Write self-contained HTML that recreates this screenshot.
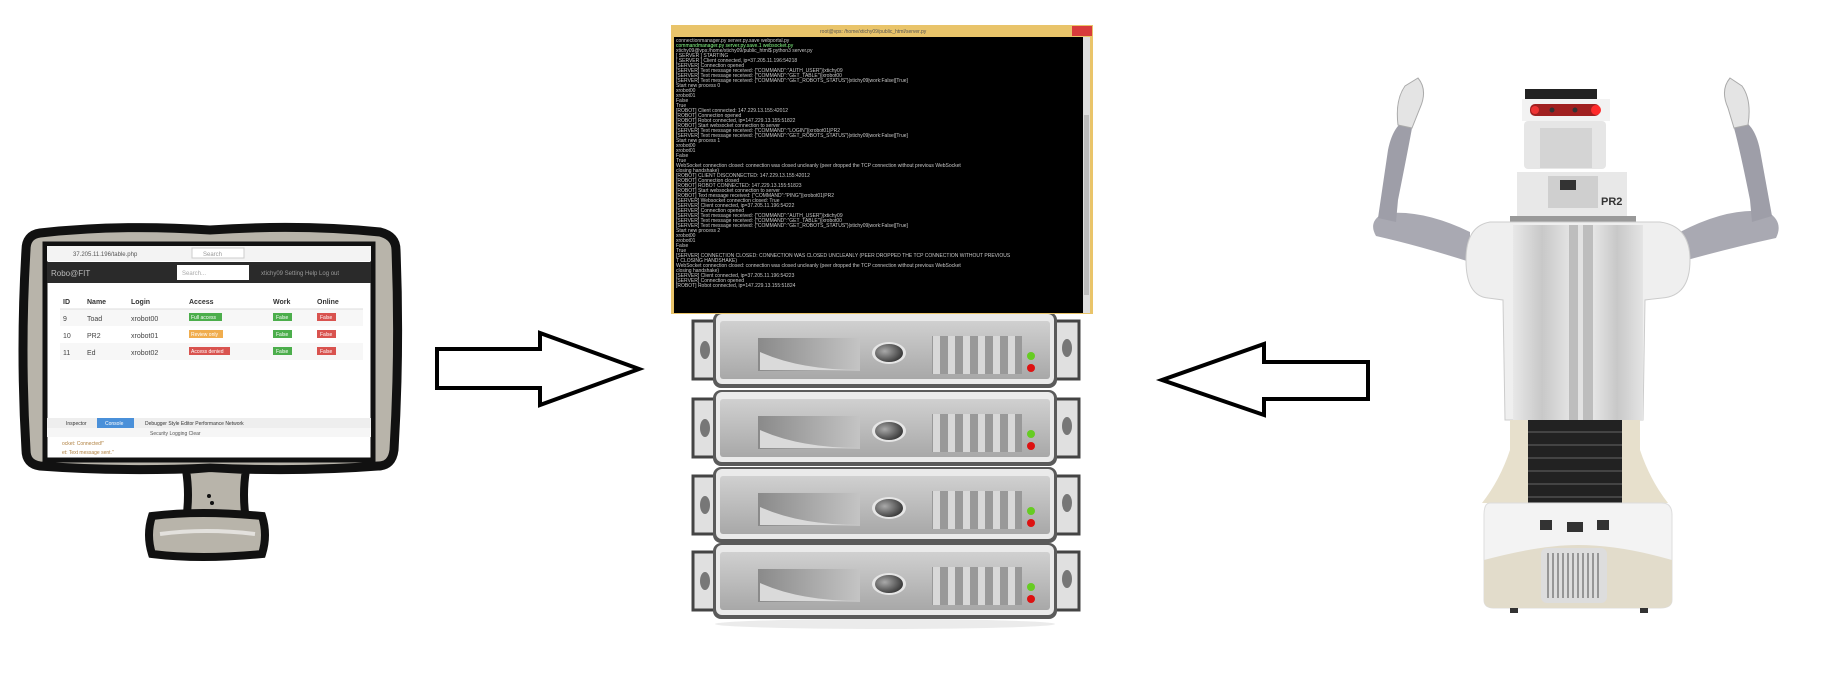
<!DOCTYPE html>
<html><head><meta charset="utf-8"><style>
html,body{margin:0;padding:0;background:#fff;width:1846px;height:685px;overflow:hidden}
svg{display:block}
text{font-family:"Liberation Sans",sans-serif}
.t{font-family:"Liberation Mono",monospace;font-size:5px;fill:#c8c8c8}
</style></head><body>
<svg width="1846" height="685" viewBox="0 0 1846 685" xmlns="http://www.w3.org/2000/svg">
<defs>
<linearGradient id="face" x1="0" y1="0" x2="0" y2="1"><stop offset="0" stop-color="#d0d0d0"/><stop offset="1" stop-color="#a8a8a8"/></linearGradient>
<linearGradient id="slot" x1="0" y1="0" x2="1" y2="0"><stop offset="0" stop-color="#8a8a8a"/><stop offset="1" stop-color="#c4c4c4"/></linearGradient>
<radialGradient id="btn" cx="0.35" cy="0.4" r="0.7"><stop offset="0" stop-color="#aaa"/><stop offset="1" stop-color="#333"/></radialGradient>
<linearGradient id="body" x1="0" y1="0" x2="1" y2="0"><stop offset="0" stop-color="#e8e8e8"/><stop offset="0.5" stop-color="#c8c8c8"/><stop offset="1" stop-color="#e4e4e4"/></linearGradient>
<g id="unit">
  <rect x="693" y="9" width="24" height="58" fill="#e0e0e0" stroke="#444" stroke-width="3"/>
  <ellipse cx="705" cy="38" rx="5" ry="9" fill="#777"/>
  <rect x="1055" y="9" width="24" height="58" fill="#e0e0e0" stroke="#444" stroke-width="3"/>
  <ellipse cx="1067" cy="36" rx="5" ry="9" fill="#777"/>
  <rect x="713" y="0" width="344" height="76" rx="8" fill="#5a5a5a"/>
  <rect x="716" y="2" width="338" height="70" rx="6" fill="#eaeaea"/>
  <rect x="720" y="9" width="330" height="58" rx="3" fill="url(#face)"/>
  <path d="M758 26 L860 26 L860 59 L758 59 Z" fill="url(#slot)"/>
  <path d="M760 40 Q800 58 860 58 L760 58 Z" fill="#dadada"/>
  <ellipse cx="889" cy="41" rx="17" ry="11" fill="#e6e6e6"/>
  <ellipse cx="889" cy="41" rx="14" ry="9" fill="url(#btn)"/>
  <rect x="932" y="24" width="90" height="38" fill="#999"/>
  <rect x="933" y="24" width="7" height="38" fill="#d8d8d8"/><rect x="948" y="24" width="7" height="38" fill="#d8d8d8"/><rect x="963" y="24" width="7" height="38" fill="#d8d8d8"/><rect x="978" y="24" width="7" height="38" fill="#d8d8d8"/><rect x="993" y="24" width="7" height="38" fill="#d8d8d8"/><rect x="1008" y="24" width="7" height="38" fill="#d8d8d8"/>
  <circle cx="1031" cy="44" r="4" fill="#66cc22"/>
  <circle cx="1031" cy="56" r="4" fill="#dd1111"/>
</g>
</defs>

<!-- MONITOR -->
<path d="M40 233 Q120 224 210 230 Q300 224 380 232 Q396 236 396 250 Q400 350 394 450 Q392 466 378 466 Q300 472 210 468 Q120 472 40 466 Q26 464 26 450 Q20 350 26 250 Q26 235 40 233 Z" fill="#b8b4aa" stroke="#111" stroke-width="9"/>
<rect x="45" y="244" width="328" height="216" fill="#fff" stroke="#111" stroke-width="5"/>
<rect x="47" y="246" width="324" height="15" fill="#f3f3f3"/>
<text x="73" y="256" font-size="6" fill="#555">37.205.11.196/table.php</text>
<rect x="192" y="248" width="52" height="10" fill="#fff" stroke="#ccc"/>
<text x="203" y="256" font-size="6" fill="#999">Search</text>
<rect x="47" y="262" width="324" height="21" fill="#2a2a2a"/>
<text x="51" y="276" font-size="8" fill="#bbb">Robo@FIT</text>
<rect x="177" y="265" width="72" height="15" fill="#fff"/>
<text x="182" y="275" font-size="6" fill="#aaa">Search...</text>
<text x="261" y="275" font-size="6" fill="#999">xtichy09    Setting    Help    Log out</text>
<g font-size="7" fill="#333" font-weight="bold"><text x="63" y="304">ID</text><text x="87" y="304">Name</text><text x="131" y="304">Login</text><text x="189" y="304">Access</text><text x="273" y="304">Work</text><text x="317" y="304">Online</text></g>
<rect x="60" y="309" width="303" height="17" fill="#f7f7f7"/>
<rect x="60" y="343" width="303" height="17" fill="#f7f7f7"/>
<line x1="60" y1="309" x2="363" y2="309" stroke="#ddd"/>
<g font-size="7" fill="#444">
<text x="63" y="321">9</text><text x="87" y="321">Toad</text><text x="131" y="321">xrobot00</text>
<text x="63" y="338">10</text><text x="87" y="338">PR2</text><text x="131" y="338">xrobot01</text>
<text x="63" y="355">11</text><text x="87" y="355">Ed</text><text x="131" y="355">xrobot02</text></g>
<rect x="189" y="313" width="33" height="8" fill="#4cae4c"/><text x="191" y="319" font-size="5" fill="#fff">Full access</text>
<rect x="189" y="330" width="34" height="8" fill="#f0ad4e"/><text x="191" y="336" font-size="5" fill="#fff">Review only</text>
<rect x="189" y="347" width="41" height="8" fill="#d9534f"/><text x="191" y="353" font-size="5" fill="#fff">Access denied</text>
<g font-size="5" fill="#fff">
<rect x="273" y="313" width="19" height="8" fill="#4cae4c"/><text x="276" y="319">False</text>
<rect x="273" y="330" width="19" height="8" fill="#4cae4c"/><text x="276" y="336">False</text>
<rect x="273" y="347" width="19" height="8" fill="#4cae4c"/><text x="276" y="353">False</text>
<rect x="317" y="313" width="19" height="8" fill="#d9534f"/><text x="320" y="319">False</text>
<rect x="317" y="330" width="19" height="8" fill="#d9534f"/><text x="320" y="336">False</text>
<rect x="317" y="347" width="19" height="8" fill="#d9534f"/><text x="320" y="353">False</text></g>
<rect x="47" y="418" width="324" height="10" fill="#eee"/>
<rect x="97" y="418" width="37" height="10" fill="#4a90d9"/>
<text x="66" y="425" font-size="5" fill="#333">Inspector</text><text x="105" y="425" font-size="5" fill="#fff">Console</text>
<text x="145" y="425" font-size="5" fill="#333">Debugger    Style Editor    Performance    Network</text>
<rect x="47" y="428" width="324" height="9" fill="#f6f6f6"/>
<text x="150" y="435" font-size="5" fill="#555">Security   Logging        Clear</text>
<text x="62" y="445" font-size="5" fill="#b08040">ocket: Connected!"</text>
<text x="62" y="454" font-size="5" fill="#b08040">et: Text message sent."</text>
<path d="M210 468 L186 470 Q190 495 186 520 L246 520 Q242 495 246 470 Z" fill="#b8b4aa" stroke="#111" stroke-width="8"/>
<circle cx="209" cy="496" r="2" fill="#111"/><circle cx="212" cy="503" r="2" fill="#111"/>
<path d="M152 516 Q200 510 262 516 Q268 535 262 554 Q200 560 152 554 Q146 535 152 516 Z" fill="#b8b4aa" stroke="#111" stroke-width="8"/>
<path d="M160 534 Q205 528 255 534" stroke="#fff" stroke-width="4" fill="none" opacity="0.6"/>

<!-- RIGHT ARROW -->
<path d="M437 349 L540 349 L540 333 L639 369 L540 405 L540 388 L437 388 Z" fill="#fff" stroke="#000" stroke-width="4" stroke-linejoin="miter"/>
<!-- LEFT ARROW -->
<path d="M1368 362 L1264 362 L1264 344 L1162 380 L1264 415 L1264 399 L1368 399 Z" fill="#fff" stroke="#000" stroke-width="4" stroke-linejoin="miter"/>

<!-- SERVERS -->
<use href="#unit" transform="translate(0,543)"/>
<use href="#unit" transform="translate(0,467)"/>
<use href="#unit" transform="translate(0,390)"/>
<use href="#unit" transform="translate(0,312)"/>
<ellipse cx="885" cy="624" rx="170" ry="5" fill="#ddd" opacity="0.6"/>

<!-- TERMINAL -->
<rect x="671" y="25" width="422" height="289" fill="#e9c46a"/>
<rect x="1072" y="26" width="20" height="10" fill="#d83b3b"/>
<text x="820" y="33" font-size="5" fill="#555">root@vps: /home/xtichy09/public_html/server.py</text>
<rect x="674" y="37" width="409" height="276" fill="#000"/>
<rect x="1083" y="37" width="7" height="276" fill="#ddd"/>
<rect x="1084" y="115" width="5" height="180" fill="#bbb"/>
<g class="t">
<text x="676" y="42">connectionmanager.py   server.py.save          webportal.py</text>
<text x="676" y="47" fill="#8f8">commandmanager.py      server.py.save.1        websocket.py</text>
<text x="676" y="52">xtichy09@vps:/home/xtichy09/public_html$ python3 server.py</text>
<text x="676" y="57">[ SERVER ] STARTING</text>
<text x="676" y="62">[ SERVER ] Client connected, ip=37.205.11.196:54218</text>
<text x="676" y="67">[SERVER] Connection opened</text>
<text x="676" y="72">[SERVER] Text message received: {"COMMAND":"AUTH_USER"}|xtichy09</text>
<text x="676" y="77">[SERVER] Text message received: {"COMMAND":"GET_TABLE"}|xrobot00</text>
<text x="676" y="82">[SERVER] Text message received: {"COMMAND":"GET_ROBOTS_STATUS"}|xtichy09|work:False|[True]</text>
<text x="676" y="87">Start new process 0</text>
<text x="676" y="92">xrobot00</text>
<text x="676" y="97">xrobot01</text>
<text x="676" y="102">False</text>
<text x="676" y="107">True</text>
<text x="676" y="112">[ROBOT] Client connected: 147.229.13.155:42012</text>
<text x="676" y="117">[ROBOT] Connection opened</text>
<text x="676" y="122">[ROBOT] Robot connected, ip=147.229.13.155:51822</text>
<text x="676" y="127">[ROBOT] Start websocket connection to server</text>
<text x="676" y="132">[SERVER] Text message received: {"COMMAND":"LOGIN"}|xrobot01|PR2</text>
<text x="676" y="137">[SERVER] Text message received: {"COMMAND":"GET_ROBOTS_STATUS"}|xtichy09|work:False|[True]</text>
<text x="676" y="142">Start new process 1</text>
<text x="676" y="147">xrobot00</text>
<text x="676" y="152">xrobot01</text>
<text x="676" y="157">False</text>
<text x="676" y="162">True</text>
<text x="676" y="167">WebSocket connection closed: connection was closed uncleanly (peer dropped the TCP connection without previous WebSocket</text>
<text x="676" y="172"> closing handshake)</text>
<text x="676" y="177">[ROBOT] CLIENT DISCONNECTED: 147.229.13.155:42012</text>
<text x="676" y="182">[ROBOT] Connection closed</text>
<text x="676" y="187">[ROBOT] ROBOT CONNECTED: 147.229.13.155:51823</text>
<text x="676" y="192">[ROBOT] Start websocket connection to server</text>
<text x="676" y="197">[ROBOT] Text message received: {"COMMAND":"PING"}|xrobot01|PR2</text>
<text x="676" y="202">[SERVER] Websocket connection closed: True</text>
<text x="676" y="207">[SERVER] Client connected, ip=37.205.11.196:54222</text>
<text x="676" y="212">[SERVER] Connection opened</text>
<text x="676" y="217">[SERVER] Text message received: {"COMMAND":"AUTH_USER"}|xtichy09</text>
<text x="676" y="222">[SERVER] Text message received: {"COMMAND":"GET_TABLE"}|xrobot00</text>
<text x="676" y="227">[SERVER] Text message received: {"COMMAND":"GET_ROBOTS_STATUS"}|xtichy09|work:False|[True]</text>
<text x="676" y="232">Start new process 2</text>
<text x="676" y="237">xrobot00</text>
<text x="676" y="242">xrobot01</text>
<text x="676" y="247">False</text>
<text x="676" y="252">True</text>
<text x="676" y="257">[SERVER] CONNECTION CLOSED: CONNECTION WAS CLOSED UNCLEANLY (PEER DROPPED THE TCP CONNECTION WITHOUT PREVIOUS</text>
<text x="676" y="262">T CLOSING HANDSHAKE)</text>
<text x="676" y="267">WebSocket connection closed: connection was closed uncleanly (peer dropped the TCP connection without previous WebSocket</text>
<text x="676" y="272"> closing handshake)</text>
<text x="676" y="277">[SERVER] Client connected, ip=37.205.11.196:54223</text>
<text x="676" y="282">[SERVER] Connection opened</text>
<text x="676" y="287">[ROBOT] Robot connected, ip=147.229.13.155:51824</text>
</g>

<!-- ROBOT -->
<path d="M1470 232 Q1420 208 1382 214 Q1368 222 1376 236 Q1420 246 1470 262 Z" fill="#a9a9b2"/>
<path d="M1378 218 L1388 150 Q1392 130 1402 122 L1412 128 Q1408 150 1398 200 L1396 222 Z" fill="#9e9ea8"/>
<path d="M1398 125 Q1395 100 1405 86 L1418 78 Q1428 90 1420 108 L1412 128 Z" fill="#e4e4e4" stroke="#aaa"/>
<path d="M1680 232 Q1730 206 1768 212 Q1784 222 1776 238 Q1730 248 1680 262 Z" fill="#a9a9b2"/>
<path d="M1772 216 L1760 150 Q1756 130 1746 122 L1734 128 Q1740 150 1750 200 L1752 222 Z" fill="#9e9ea8"/>
<path d="M1748 125 Q1752 100 1742 86 L1730 78 Q1720 90 1728 108 L1734 128 Z" fill="#e4e4e4" stroke="#aaa"/>
<rect x="1525" y="89" width="72" height="10" fill="#222"/>
<rect x="1522" y="99" width="88" height="22" fill="#f2f2f2"/>
<rect x="1530" y="104" width="70" height="12" rx="5" fill="#a02020"/>
<circle cx="1535" cy="110" r="4" fill="#e33"/><circle cx="1596" cy="110" r="5" fill="#ff2a2a"/>
<circle cx="1552" cy="110" r="2.5" fill="#333"/><circle cx="1575" cy="110" r="2.5" fill="#333"/>
<rect x="1524" y="121" width="82" height="48" rx="4" fill="#e6e6e6"/>
<rect x="1540" y="128" width="52" height="40" fill="#d4d4d4"/>
<rect x="1517" y="172" width="110" height="44" fill="#e8e8e8"/>
<rect x="1548" y="176" width="50" height="32" fill="#cfcfcf"/>
<rect x="1560" y="180" width="16" height="10" fill="#333"/>
<text x="1601" y="205" font-size="11" fill="#333" font-weight="bold">PR2</text>
<rect x="1510" y="216" width="126" height="6" fill="#999"/>
<path d="M1490 222 L1660 222 Q1690 226 1690 260 Q1690 296 1662 298 L1645 300 L1643 420 L1505 420 L1503 300 L1488 298 Q1466 296 1466 260 Q1466 226 1490 222 Z" fill="#efefef" stroke="#ccc"/>
<rect x="1513" y="225" width="58" height="195" fill="url(#body)"/>
<rect x="1591" y="225" width="52" height="195" fill="url(#body)"/>
<rect x="1569" y="225" width="24" height="195" fill="#bdbdbd"/>
<rect x="1578" y="225" width="5" height="195" fill="#e2e2e2"/>
<path d="M1510 420 L1640 420 L1640 450 Q1650 480 1668 503 L1482 503 Q1500 480 1510 450 Z" fill="#e7e0cc"/>
<rect x="1528" y="420" width="94" height="85" fill="#222"/>
<g stroke="#444" stroke-width="2"><line x1="1528" y1="432" x2="1622" y2="432"/><line x1="1528" y1="445" x2="1622" y2="445"/><line x1="1528" y1="458" x2="1622" y2="458"/><line x1="1528" y1="471" x2="1622" y2="471"/><line x1="1528" y1="484" x2="1622" y2="484"/><line x1="1528" y1="497" x2="1622" y2="497"/></g>
<path d="M1490 503 L1662 503 Q1672 503 1672 515 L1672 600 Q1672 608 1660 608 L1494 608 Q1484 608 1484 600 L1484 515 Q1484 503 1490 503 Z" fill="#f3f3f3" stroke="#ddd"/>
<path d="M1484 560 Q1540 545 1578 545 Q1620 545 1672 560 L1672 600 Q1672 608 1660 608 L1494 608 Q1484 608 1484 600 Z" fill="#e2dccb"/>
<rect x="1541" y="548" width="66" height="55" rx="6" fill="#ddd"/>
<g stroke="#666" stroke-width="1.2"><line x1="1548" y1="553" x2="1548" y2="598"/><line x1="1553" y1="553" x2="1553" y2="598"/><line x1="1558" y1="553" x2="1558" y2="598"/><line x1="1563" y1="553" x2="1563" y2="598"/><line x1="1568" y1="553" x2="1568" y2="598"/><line x1="1573" y1="553" x2="1573" y2="598"/><line x1="1578" y1="553" x2="1578" y2="598"/><line x1="1583" y1="553" x2="1583" y2="598"/><line x1="1588" y1="553" x2="1588" y2="598"/><line x1="1593" y1="553" x2="1593" y2="598"/><line x1="1598" y1="553" x2="1598" y2="598"/></g>
<rect x="1540" y="520" width="12" height="10" fill="#333"/><rect x="1567" y="522" width="16" height="10" fill="#333"/><rect x="1597" y="520" width="12" height="10" fill="#333"/>
<rect x="1510" y="608" width="8" height="5" fill="#333"/><rect x="1640" y="608" width="8" height="5" fill="#333"/>
</svg>
</body></html>
